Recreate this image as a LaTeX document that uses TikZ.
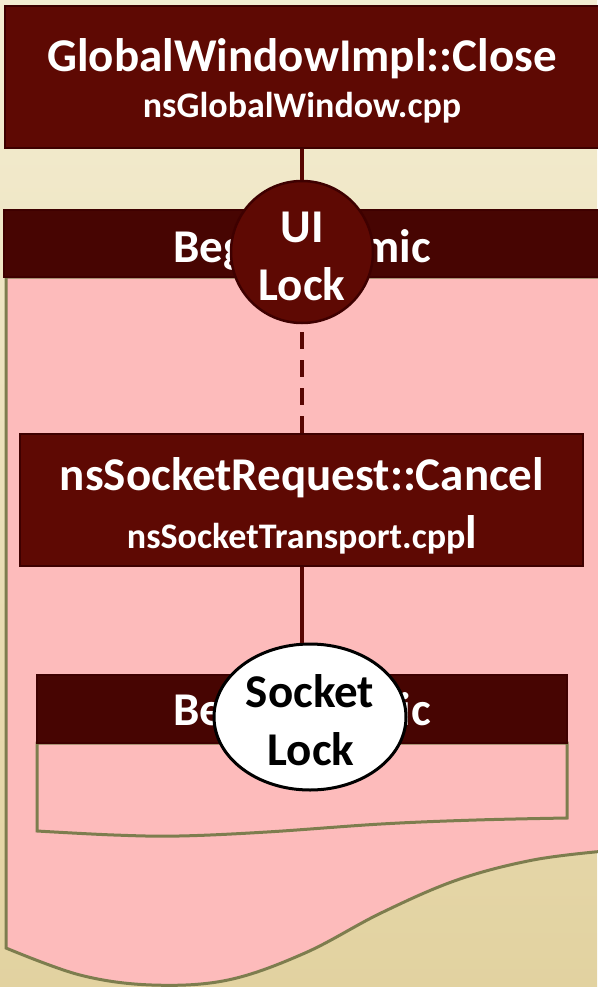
\documentclass[tikz,border=0pt]{standalone}
\usepackage{fontspec}
\setmainfont{Carlito}
\usetikzlibrary{shapes.geometric}
\definecolor{bgtop}{RGB}{244,237,210}
\definecolor{bgbot}{RGB}{226,210,160}
\definecolor{boxred}{RGB}{94,9,3}
\definecolor{boxedge}{RGB}{62,0,0}
\definecolor{headred}{RGB}{71,5,2}
\definecolor{pinkbody}{RGB}{253,187,187}
\definecolor{olivebrd}{RGB}{125,125,78}
\definecolor{connred}{RGB}{88,6,2}
\begin{document}
\begin{tikzpicture}[x=1pt,y=-1pt,
  redbox/.style={rectangle, fill=boxred, draw=boxedge, line width=1.5pt, inner sep=0pt},
  headbar/.style={rectangle, fill=headred, draw=boxedge, line width=1.5pt, inner sep=0pt},
  bigtxt/.style={text=white, font=\fontsize{47}{56}\selectfont\bfseries, inner sep=0pt, anchor=base},
  smalltxt/.style={text=white, font=\fontsize{36}{44}\selectfont\bfseries, inner sep=0pt, anchor=base},
  docbody/.style={fill=pinkbody, draw=olivebrd, line width=3pt},
  conn/.style={draw=connred, line width=3.5pt},
  dashconn/.style={draw=connred, line width=4pt, dash pattern=on 17pt off 11pt}
]
\useasboundingbox (0,0) rectangle (597,987);
\shade[top color=bgtop, bottom color=bgbot] (0,0) rectangle (597,987);

% outer document shape
\path[docbody] (6,277) -- plot[smooth, tension=0.6] coordinates {(6,948) (80,975) (152,985) (228,980) (305,953) (381,913) (457,880) (533,860) (605,851)} -- (605,277) -- cycle;
\node[headbar, minimum width=601pt, minimum height=67pt] (outerhead) at (304.5,243.5) {};
\node[bigtxt] (outerlbl) at (302,262) {Begin Atomic};

% top box
\node[redbox, minimum width=600pt, minimum height=142pt] (topbox) at (305,77) {};
\node[bigtxt] (toptitle) at (302,72) {GlobalWindowImpl::Close};
\node[smalltxt] (topfile) at (302,118) {nsGlobalWindow.cpp};

% request box
\node[redbox, minimum width=563pt, minimum height=132pt] (reqbox) at (301.5,500) {};
\node[bigtxt] (reqtitle) at (302,490) {nsSocketRequest::Cancel};
\node[smalltxt] (reqfile) at (302,548) {nsSocketTransport.cpp{\fontsize{47}{56}\selectfont l}};

% inner document shape
\path[docbody] (37,743) -- plot[smooth, tension=0.6] coordinates {(37,831) (114,835) (179,836) (267,832) (381,824) (476,820) (567,818)} -- (567,743) -- cycle;
\node[headbar, minimum width=530pt, minimum height=68pt] (innerhead) at (302,709) {};
\node[bigtxt] (innerlbl) at (302,725) {Begin Atomic};

% locks
\node[circle, fill=boxred, draw=boxedge, line width=2.5pt, minimum size=142pt, inner sep=0pt] (uilock) at (302,252) {};
\node[bigtxt] (uil1) at (302,242) {UI};
\node[bigtxt] (uil2) at (302,300) {Lock};

\node[ellipse, fill=white, draw=black, line width=3pt, minimum width=192pt, minimum height=146pt, inner sep=0pt] (socklock) at (310,717) {};
\node[bigtxt, text=black] (sl1) at (310,707) {Socket};
\node[bigtxt, text=black] (sl2) at (311,765) {Lock};

% connectors
\draw[conn] (topbox.south -| uilock) -- (uilock.north);
\draw[dashconn] (uilock.south) ++(0,8) -- (uilock.south |- reqbox.north);
\draw[conn] (reqbox.south -| 302,0) -- (socklock.north -| 302,0);
\end{tikzpicture}
\end{document}
